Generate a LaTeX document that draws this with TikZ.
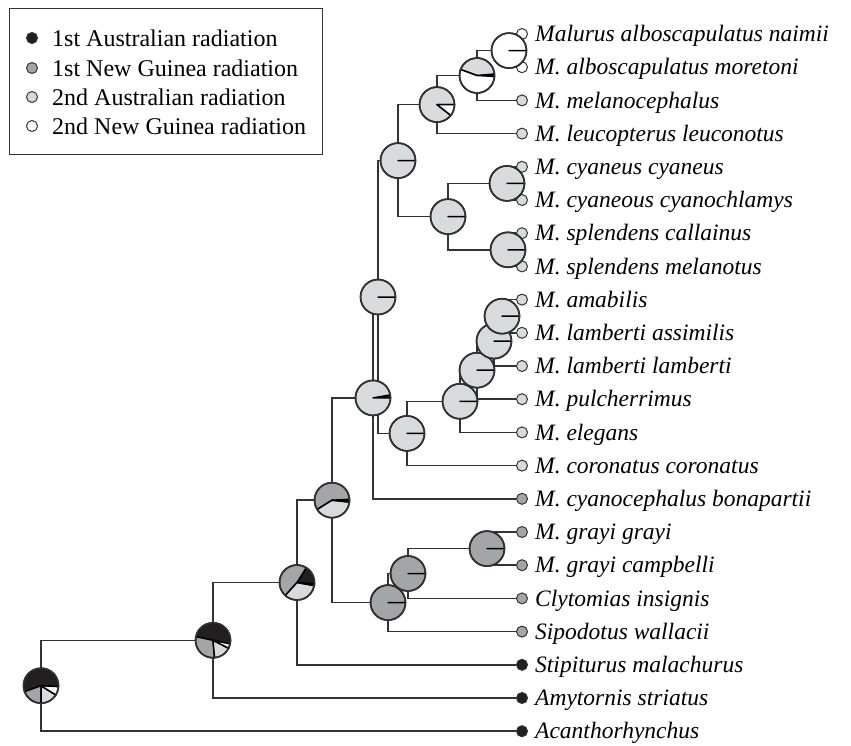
\documentclass[tikz,border=0pt]{standalone}
\usepackage{fontspec}
\setmainfont{Liberation Serif}
\usetikzlibrary{calc}
\definecolor{pieA}{HTML}{231F20}
\definecolor{pieB}{HTML}{A4A5A8}
\definecolor{pieC}{HTML}{D9DADC}
\definecolor{pieD}{HTML}{FFFFFF}
\definecolor{ln}{HTML}{333333}
\newcommand{\pieradius}{17.5}
\newcommand{\drawpie}[2]{%
  \begin{scope}[shift={(#1)}, yscale=-1]
    \foreach \s/\e/\c in {#2} {
      \filldraw[fill=\c, draw=black, line width=1.5pt, line join=round]
        (0,0) -- (\s:\pieradius) arc[start angle=\s, end angle=\e, radius=\pieradius] -- cycle;
    }
    \draw[draw=ln, line width=1.6pt] (0,0) circle[radius=\pieradius];
  \end{scope}}
\begin{document}
\begin{tikzpicture}[x=1pt,y=-1pt,
  tree/.style={draw=ln, line width=1.6pt},
  leafdot/.style={circle, draw=ln, line width=1pt, minimum size=11pt, inner sep=0pt},
  legdot/.style={circle, draw=ln, line width=1pt, minimum size=11pt, inner sep=0pt},
  lab/.style={anchor=base west, font=\fontsize{23.5}{26}\selectfont\itshape, inner sep=0pt},
  legtext/.style={anchor=base west, font=\fontsize{24}{28}\selectfont, inner sep=0pt}]
\useasboundingbox (0,0) rectangle (851,745);

% legend
\node[draw=ln, line width=1.2pt, anchor=north west, minimum width=313pt, minimum height=146pt, inner sep=0pt] (legend) at (9,8) {};
\node[legdot, fill=pieA] (g1) at (32,38) {};
\node[legdot, fill=pieB] (g2) at (32,68) {};
\node[legdot, fill=pieC] (g3) at (32,97) {};
\node[legdot, fill=pieD] (g4) at (32,126) {};
\node[legtext] (gt1) at (52,46) {1st Australian radiation};
\node[legtext] (gt2) at (52,76) {1st New Guinea radiation};
\node[legtext] (gt3) at (52,105) {2nd Australian radiation};
\node[legtext] (gt4) at (52,134) {2nd New Guinea radiation};

% leaves
\foreach \i/\c/\t in {
  0/pieD/{Malurus alboscapulatus naimii},
  1/pieD/{M. alboscapulatus moretoni},
  2/pieC/{M. melanocephalus},
  3/pieC/{M. leucopterus leuconotus},
  4/pieC/{M. cyaneus cyaneus},
  5/pieC/{M. cyaneous cyanochlamys},
  6/pieC/{M. splendens callainus},
  7/pieC/{M. splendens melanotus},
  8/pieC/{M. amabilis},
  9/pieC/{M. lamberti assimilis},
  10/pieC/{M. lamberti lamberti},
  11/pieC/{M. pulcherrimus},
  12/pieC/{M. elegans},
  13/pieC/{M. coronatus coronatus},
  14/pieB/{M. cyanocephalus bonapartii},
  15/pieB/{M. grayi grayi},
  16/pieB/{M. grayi campbelli},
  17/pieB/{Clytomias insignis},
  18/pieB/{Sipodotus wallacii},
  19/pieA/{Stipiturus malachurus},
  20/pieA/{Amytornis striatus},
  21/pieA/{Acanthorhynchus}} {
  \node[leafdot, fill=\c] (l\i) at (522,{34+33.2*\i}) {};
  \node[lab] (t\i) at ([xshift=7pt,yshift=-7.6pt]l\i.east) {\t};
}

% internal nodes
\coordinate (nA) at (509,50.6);
\coordinate (nB) at (477,75.5);
\coordinate (nC) at (437,104.6);
\coordinate (nF) at (507,183.4);
\coordinate (nG) at (508,249.8);
\coordinate (nE) at (448,216.6);
\coordinate (nD) at (398,160.6);
\coordinate (nP) at (502,316.2);
\coordinate (nO) at (494,341.1);
\coordinate (nN) at (477,370.2);
\coordinate (nL) at (460,401.3);
\coordinate (nK) at (407,433.4);
\coordinate (nH) at (378,297);
\coordinate (nI) at (373,397.9);
\coordinate (nS) at (487,548.6);
\coordinate (nQ) at (408,573.5);
\coordinate (nR) at (388,602.6);
\coordinate (nJ) at (332,500.2);
\coordinate (nT) at (297,582.5);
\coordinate (nU) at (213,640.3);
\coordinate (nV) at (41,685.7);

% branches
\draw[tree] (nA) |- (l0);  \draw[tree] (nA) |- (l1);
\draw[tree] (nB) |- (nA);  \draw[tree] (nB) |- (l2);
\draw[tree] (nC) |- (nB);  \draw[tree] (nC) |- (l3);
\draw[tree] (nF) |- (l4);  \draw[tree] (nF) |- (l5);
\draw[tree] (nG) |- (l6);  \draw[tree] (nG) |- (l7);
\draw[tree] (nE) |- (nF);  \draw[tree] (nE) |- (nG);
\draw[tree] (nD) |- (nC);  \draw[tree] (nD) |- (nE);
\draw[tree] (nP) |- (l8);  \draw[tree] (nP) |- (l9);
\draw[tree] (nO) |- (nP);  \draw[tree] (nO) |- (l10);
\draw[tree] (nN) |- (nO);  \draw[tree] (nN) |- (l11);
\draw[tree] (nL) |- (nN);  \draw[tree] (nL) |- (l12);
\draw[tree] (nK) |- (nL);  \draw[tree] (nK) |- (l13);
\draw[tree] (nH) |- (nD);  \draw[tree] (nH) |- (nK);
\draw[tree] (nI) |- (nH);  \draw[tree] (nI) |- (l14);
\draw[tree] (nS) |- (l15); \draw[tree] (nS) |- (l16);
\draw[tree] (nQ) |- (nS);  \draw[tree] (nQ) |- (l17);
\draw[tree] (nR) |- (nQ);  \draw[tree] (nR) |- (l18);
\draw[tree] (nJ) |- (nI);  \draw[tree] (nJ) |- (nR);
\draw[tree] (nT) |- (nJ);  \draw[tree] (nT) |- (l19);
\draw[tree] (nU) |- (nT);  \draw[tree] (nU) |- (l20);
\draw[tree] (nV) |- (nU);  \draw[tree] (nV) |- (l21);

% pies
\drawpie{nV}{-3/200/pieA, 200/270/pieB, 270/328/pieC, 328/357/pieD}
\drawpie{nU}{-12/168/pieA, 168/275/pieB, 275/333/pieC, 333/348/pieD}
\drawpie{nT}{-5/58/pieA, 58/228/pieB, 228/350/pieC, 350/355/pieD}
\drawpie{nJ}{-4/3/pieA, 3/212/pieB, 212/354/pieC, 354/356/pieD}
\drawpie{nI}{0/10/pieA, 10/360/pieC}
\drawpie{nH}{0/360/pieC}
\drawpie{nD}{0/360/pieC}
\drawpie{nC}{0/322/pieC, 322/360/pieD}
\drawpie{nB}{-3/5/pieA, 5/160/pieC, 160/357/pieD}
\drawpie{nA}{0/360/pieD}
\drawpie{nE}{0/360/pieC}
\drawpie{nF}{0/360/pieC}
\drawpie{nG}{0/360/pieC}
\drawpie{nK}{0/360/pieC}
\drawpie{nL}{0/360/pieC}
\drawpie{nN}{0/360/pieC}
\drawpie{nO}{0/360/pieC}
\drawpie{nP}{0/360/pieC}
\drawpie{nR}{0/360/pieB}
\drawpie{nQ}{0/360/pieB}
\drawpie{nS}{0/360/pieB}
\end{tikzpicture}
\end{document}
